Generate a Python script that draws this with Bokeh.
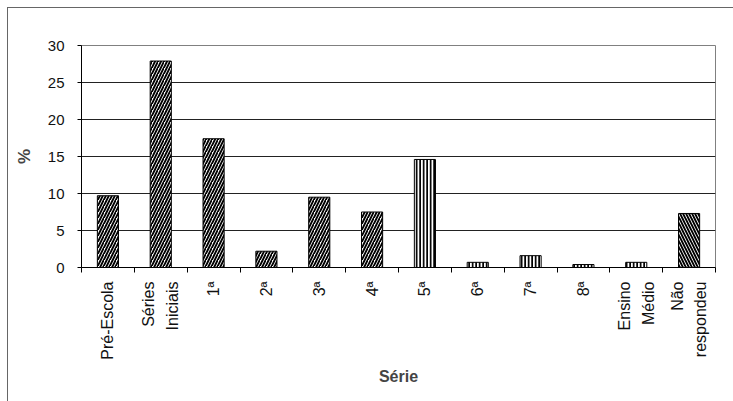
import math
from bokeh.plotting import figure
from bokeh.models import ColumnDataSource, FixedTicker, Range1d
from bokeh.embed import file_html
from bokeh.resources import INLINE

# Data
categories = ["Pré-Escola", "Séries\nIniciais", "1ª", "2ª", "3ª", "4ª", "5ª",
              "6ª", "7ª", "8ª", "Ensino\nMédio", "Não\nrespondeu"]
percent = [9.7, 27.9, 17.4, 2.2, 9.5, 7.5, 14.6, 0.7, 1.6, 0.4, 0.7, 7.3]
y_ticks = [0, 5, 10, 15, 20, 25, 30]

# Styling: hatch per group of grades
hatches = ["/"] * 6 + ["|"] * 5 + ["\\"]
hatch_scales = [6] * 6 + [3.5] * 5 + [6]

n = len(categories)
centers = [i + 0.5 for i in range(n)]

src = ColumnDataSource(dict(x=centers, top=percent, hatch=hatches, hscale=hatch_scales))

FONT = "Liberation Sans"

p = figure(width=726, height=394, output_backend="svg", toolbar_location=None,
           x_range=Range1d(0, n), y_range=Range1d(0, 30),
           min_border_left=73, min_border_right=19, min_border_top=37, min_border_bottom=135)
p.margin = (7, 0, 0, 7)
p.styles = {"border-left": "1px solid #666", "border-top": "1px solid #666"}

p.outline_line_color = "#808080"
p.outline_line_width = 1
p.background_fill_color = "white"
p.border_fill_color = "white"

p.vbar(x="x", top="top", width=0.4, bottom=0, source=src,
       fill_color="white", line_color="black", line_width=1,
       hatch_pattern="hatch", hatch_color="black", hatch_weight=1.9, hatch_scale="hscale")

# x axis: labels at category centres, tick marks at boundaries
xa = p.xaxis[0]
xa.ticker = FixedTicker(ticks=centers, minor_ticks=list(range(n + 1)))
xa.major_label_overrides = {c: lab for c, lab in zip(centers, categories)}
xa.major_label_orientation = math.pi / 2
xa.major_tick_line_color = None
xa.minor_tick_line_color = "black"
xa.minor_tick_out = 5
xa.minor_tick_in = 0
xa.axis_line_color = "black"
xa.major_label_text_font = FONT
xa.major_label_text_font_size = "16px"
xa.major_label_text_color = "#111111"
xa.major_label_text_line_height = 1.4
xa.major_label_standoff = 8
xa.axis_label = "Série"
xa.axis_label_text_font = FONT
xa.axis_label_text_font_style = "bold"
xa.axis_label_text_font_size = "16px"
xa.axis_label_standoff = 5

ya = p.yaxis[0]
ya.ticker = FixedTicker(ticks=y_ticks)
ya.major_tick_out = 4
ya.major_tick_in = 0
ya.minor_tick_line_color = None
ya.axis_line_color = "black"
ya.major_label_text_font = FONT
ya.major_label_text_font_size = "15px"
ya.major_label_text_color = "#111111"
ya.major_label_standoff = 13
ya.axis_label = "%"
ya.axis_label_text_font = FONT
ya.axis_label_text_font_style = "bold"
ya.axis_label_text_font_size = "17px"
ya.axis_label_standoff = 11

p.xgrid.grid_line_color = None
p.ygrid.ticker = FixedTicker(ticks=[5, 10, 15, 20, 25])
p.ygrid.grid_line_color = "#222222"
p.ygrid.grid_line_width = 1

open("out.html", "w").write(file_html(p, INLINE))
